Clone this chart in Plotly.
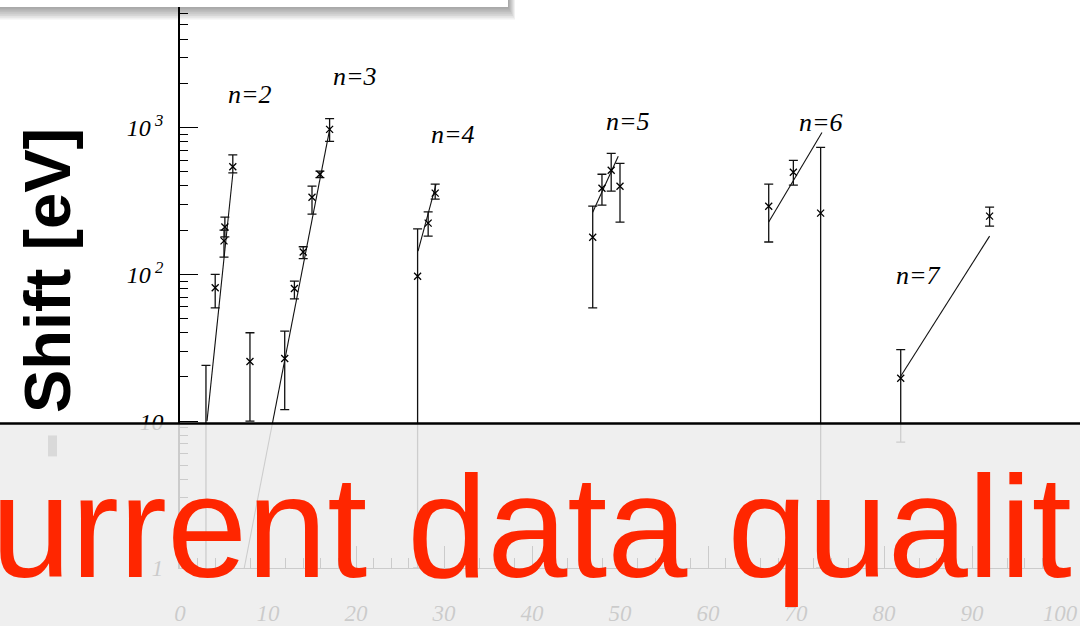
import plotly.graph_objects as go

# ---------------- data ----------------
# measured points: x, shift [eV], lower end of error bar, upper end of error bar
n2_x = [2.95, 4.0, 5.1, 5.0, 6.0, 7.95]
n2_y = [0.9, 81, 210, 169, 540, 25.5]
n2_lo = [0.9, 59, 180, 131, 490, 10]
n2_hi = [24, 100, 245, 200, 650, 40]

n3_x = [11.9, 13.0, 14.0, 15.0, 15.9, 17.0]
n3_y = [26.7, 80, 142, 335, 480, 970]
n3_lo = [12, 68, 128, 257, 455, 804]
n3_hi = [41, 90, 154, 398, 505, 1150]

n4_x = [27.0, 28.2, 29.0]
n4_y = [97, 223, 357]
n4_lo = [1.0, 182, 325]
n4_hi = [204, 266, 411]

n5_x = [46.9, 47.95, 49.0, 50.0]
n5_y = [179, 386, 511, 398]
n5_lo = [59, 296, 368, 227]
n5_hi = [291, 480, 667, 570]

n6_x = [66.9, 69.7, 72.8]
n6_y = [291, 495, 261]
n6_lo = [166, 405, 1.0]
n6_hi = [411, 597, 731]

n7_x = [81.9, 92.0]
n7_y = [19.6, 249]
n7_lo = [7.2, 213]
n7_hi = [30.7, 287]

# fitted lines (end points)
fit2_x = [3.07, 6.02]
fit2_y = [10, 495]
fit3_x = [7.3, 17.05]
fit3_y = [1.0, 1000]
fit4_x = [27.05, 29.1]
fit4_y = [144, 411]
fit5_x = [46.9, 49.8]
fit5_y = [265, 636]
fit6_x = [66.9, 72.95]
fit6_y = [227, 925]
fit7_x = [81.9, 92.0]
fit7_y = [20.2, 182]

group_labels = ["n=2", "n=3", "n=4", "n=5", "n=6", "n=7"]
x_ticks = [0, 10, 20, 30, 40, 50, 60, 70, 80, 90, 100]
y_ticks = [1, 10, 100, 1000]
y_ticktext = ["<i>1</i>", "<i>10</i>", "<i>10</i><sup><i> 2</i></sup>", "<i>10</i><sup><i> 3</i></sup>"]
y_minor = [m * d for d in [1, 10, 100, 1000] for m in range(2, 10)]
overlay_text = "urrent data qualit"
y_title = "Shift [eV]"

# ---------------- layout geometry helpers ----------------
W, H = 1080, 626
ML, MR, MT, MB = 180, 20, 0, 56
PW, PH = W - ML - MR, H - MT - MB
YTOP = 3.868


def pxx(px):
    return (px - ML) / PW


def pxy(py):
    return (H - MB - py) / PH


def logy(py):
    return YTOP * (1 - (py - MT) / PH)


def dx(px):
    return (px - ML) / PW * 100


fig = go.Figure()

groups = [
    (n2_x, n2_y, n2_lo, n2_hi),
    (n3_x, n3_y, n3_lo, n3_hi),
    (n4_x, n4_y, n4_lo, n4_hi),
    (n5_x, n5_y, n5_lo, n5_hi),
    (n6_x, n6_y, n6_lo, n6_hi),
    (n7_x, n7_y, n7_lo, n7_hi),
]
fits = [(fit2_x, fit2_y), (fit3_x, fit3_y), (fit4_x, fit4_y),
        (fit5_x, fit5_y), (fit6_x, fit6_y), (fit7_x, fit7_y)]

for fx, fy in fits:
    fig.add_trace(go.Scatter(x=fx, y=fy, mode="lines",
                             line=dict(color="#111111", width=1.1),
                             hoverinfo="skip", showlegend=False))

for gx, gy, glo, ghi in groups:
    fig.add_trace(go.Scatter(
        x=gx, y=gy, mode="markers",
        marker=dict(symbol="x-thin", size=7, color="black",
                    line=dict(color="black", width=1.3)),
        error_y=dict(type="data", symmetric=False,
                     array=[h - v for h, v in zip(ghi, gy)],
                     arrayminus=[v - l for v, l in zip(gy, glo)],
                     color="#111111", thickness=1.3, width=4.5),
        showlegend=False))

fig.update_xaxes(range=[0, 100], showline=True, linecolor="black", linewidth=1.3,
                 ticks="inside", ticklen=22, tickwidth=1.1, tickcolor="black",
                 tickvals=x_ticks, ticktext=[f"<i>{v}</i>" for v in x_ticks],
                 tickfont=dict(family="Liberation Serif", size=23, color="black"),
                 ticklabelstandoff=24,
                 minor=dict(ticks="inside", ticklen=10, dtick=2, tickcolor="black", tickwidth=1),
                 showgrid=False, zeroline=False)
fig.update_yaxes(type="log", range=[0, YTOP], showline=True, linecolor="black", linewidth=1.5,
                 ticks="inside", ticklen=18, tickwidth=1.3, tickcolor="black",
                 tickvals=y_ticks, ticktext=y_ticktext,
                 tickfont=dict(family="Liberation Serif", size=24, color="black"),
                 ticklabelstandoff=10,
                 minor=dict(ticks="inside", ticklen=8, tickvals=y_minor, tickcolor="black", tickwidth=1),
                 showgrid=False, zeroline=False)

# group labels
label_pos = [(250, 95), (355, 77), (453, 135), (628, 122), (821, 123), (918, 276)]
for txt, (px, py) in zip(group_labels, label_pos):
    fig.add_annotation(x=dx(px), y=logy(py), xref="x", yref="y", text=f"<i>{txt}</i>",
                       showarrow=False, xanchor="center", yanchor="middle",
                       font=dict(family="Liberation Serif", size=26, color="black"))

shapes = []
# window shadow + white window at top left
for k in range(1, 8):
    shapes.append(dict(type="rect", xref="paper", yref="paper",
                       x0=pxx(-10), x1=pxx(508 + k), y0=pxy(7 + 1.8 * k), y1=pxy(-5),
                       fillcolor="rgba(0,0,0,0.055)", line=dict(width=0), layer="above"))
shapes.append(dict(type="rect", xref="paper", yref="paper",
                   x0=pxx(-10), x1=pxx(508), y0=pxy(7), y1=pxy(-5),
                   fillcolor="white", line=dict(width=0), layer="above"))
# translucent band over the lower part
shapes.append(dict(type="rect", xref="paper", yref="paper",
                   x0=pxx(-10), x1=pxx(1090), y0=pxy(640), y1=pxy(425),
                   fillcolor="rgba(236,236,236,0.86)", line=dict(width=0), layer="above"))
shapes.append(dict(type="line", xref="paper", yref="paper",
                   x0=pxx(-10), x1=pxx(1090), y0=pxy(425), y1=pxy(425),
                   line=dict(color="black", width=2.5), layer="above"))
shapes.append(dict(type="rect", xref="paper", yref="paper",
                   x0=pxx(48), x1=pxx(57), y0=pxy(458), y1=pxy(437),
                   fillcolor="#d9d9d9", line=dict(width=0), layer="above"))

fig.add_annotation(x=pxx(47.5), y=pxy(271.5), xref="paper", yref="paper",
                   text=f"<b>{y_title}</b>", textangle=-90, showarrow=False,
                   xanchor="center", yanchor="middle",
                   font=dict(family="Liberation Sans", size=65, color="black"))

fig.add_annotation(x=pxx(-11), y=logy(529), xref="paper", yref="y",
                   text=overlay_text, showarrow=False,
                   xanchor="left", yanchor="middle",
                   font=dict(family="Liberation Sans", size=144, color="#ff2600"))

fig.update_layout(width=W, height=H, margin=dict(l=ML, r=MR, t=MT, b=MB),
                  paper_bgcolor="white", plot_bgcolor="white",
                  shapes=shapes, showlegend=False)

fig.write_html("out.html", config={"displayModeBar": False},
               post_script="document.body.style.margin='0';document.body.style.overflow='hidden';")
